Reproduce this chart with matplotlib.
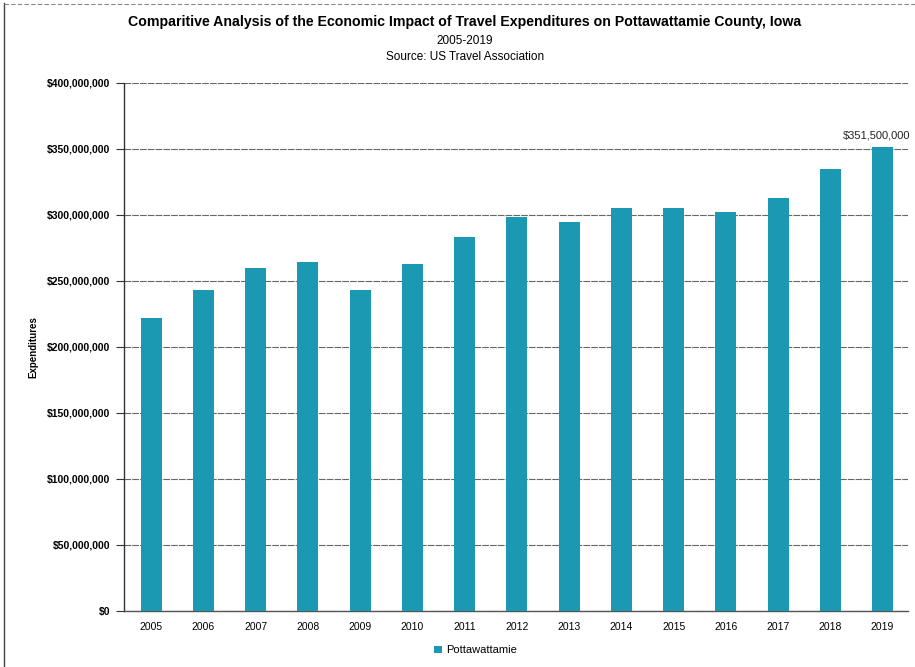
import matplotlib
matplotlib.use("Agg")
import matplotlib.pyplot as plt
from matplotlib.ticker import FuncFormatter, MultipleLocator
from matplotlib.patches import Patch
from matplotlib.lines import Line2D

years = ["2005", "2006", "2007", "2008", "2009", "2010", "2011", "2012",
         "2013", "2014", "2015", "2016", "2017", "2018", "2019"]
expenditures = [222_000_000, 243_000_000, 259_500_000, 264_000_000, 243_000_000,
                262_800_000, 283_000_000, 298_700_000, 295_000_000, 305_000_000,
                305_000_000, 302_300_000, 312_700_000, 335_000_000, 351_500_000]
series_name = "Pottawattamie"
title = "Comparitive Analysis of the Economic Impact of Travel Expenditures on Pottawattamie County, Iowa"
subtitle1 = "2005-2019"
subtitle2 = "Source: US Travel Association"
annot_label = "$351,500,000"

plt.rcParams["font.family"] = ["Liberation Sans", "DejaVu Sans"]

bar_color = "#1b99b2"

fig = plt.figure(figsize=(9.15, 6.67), dpi=100)
ax = fig.add_axes([0.1355, 0.084, 0.8565, 0.7916])

x = list(range(len(years)))
ax.bar(x, expenditures, width=0.4, color=bar_color, zorder=3)

ax.set_xlim(-0.52, 14.48)
ax.set_ylim(0, 400_000_000)
ax.yaxis.set_major_locator(MultipleLocator(50_000_000))
ax.yaxis.set_major_formatter(FuncFormatter(lambda v, p: f"${v:,.0f}"))
ax.set_xticks(x)
ax.set_xticklabels(years, fontsize=7.5)
for lab in ax.get_yticklabels():
    lab.set_fontsize(7.5)
    lab.set_fontweight("bold")

ax.grid(axis="y", color="#666666", linewidth=0.8, linestyle=(0, (6, 1)), zorder=0)
ax.tick_params(axis="y", length=6, width=0.8, color="#333333", pad=4)
ax.tick_params(axis="x", length=0, pad=8)
for s in ["top", "right"]:
    ax.spines[s].set_visible(False)
ax.spines["left"].set_color("#333333")
ax.spines["left"].set_linewidth(1.0)
ax.spines["bottom"].set_color("#555555")
ax.spines["bottom"].set_linewidth(1.0)

ax.set_ylabel("Expenditures", fontsize=7, fontweight="bold")
ax.yaxis.set_label_coords(-0.109, 0.5)

ax.annotate(annot_label, xy=(x[-1], expenditures[-1]), xytext=(-4, 5),
            textcoords="offset points", ha="center", va="bottom",
            fontsize=8, color="#222222", annotation_clip=False)

t = fig.text(0.508, 0.967, title, ha="center", va="center", fontsize=11,
             fontweight="bold")
fig.canvas.draw()
w = t.get_window_extent().width
target = 675.0
t.set_fontsize(11 * target / w)
fig.text(0.508, 0.939, subtitle1, ha="center", va="center", fontsize=8.5)
fig.text(0.508, 0.914, subtitle2, ha="center", va="center", fontsize=8.5)

handles = [Patch(facecolor=bar_color, edgecolor="none")]
fig.legend(handles, [series_name], loc="center", bbox_to_anchor=(0.52, 0.025),
           frameon=False, fontsize=8, handlelength=0.7, handleheight=0.7,
           handletextpad=0.4)

fig.add_artist(Line2D([0.004, 0.004], [0, 0.995], transform=fig.transFigure,
                      color="#444444", linewidth=1.0))
fig.add_artist(Line2D([0.004, 1.0], [0.994, 0.994], transform=fig.transFigure,
                      color="#888888", linewidth=0.8, linestyle=(0, (4, 2))))

fig.savefig("out.png", dpi=100)
